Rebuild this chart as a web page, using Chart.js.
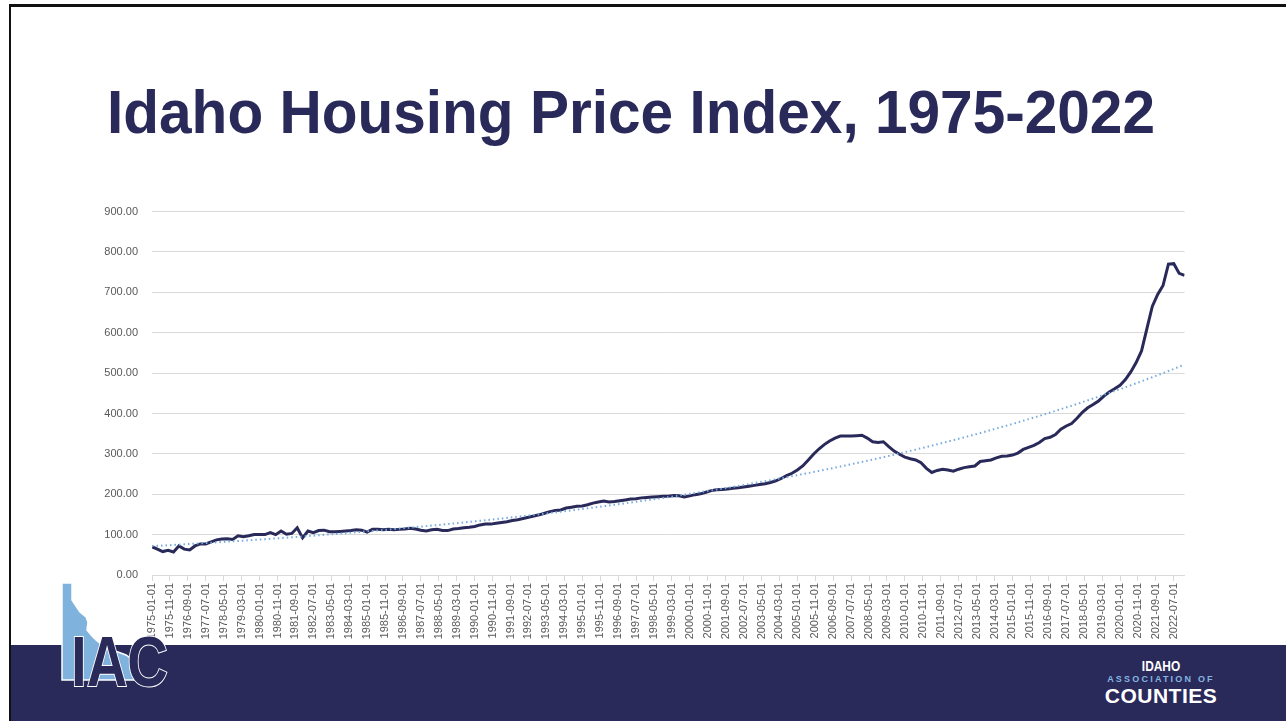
<!DOCTYPE html>
<html>
<head>
<meta charset="utf-8">
<script src="https://cdn.jsdelivr.net/npm/chart.js@4.4.1/dist/chart.umd.min.js"></script>
<style>
  html, body { margin: 0; padding: 0; }
  body { width: 1286px; height: 721px; position: relative; overflow: hidden; background: #fff; font-family: "Liberation Sans", Arial, sans-serif; }
  #frame { position: absolute; left: 9px; top: 4px; width: 1300px; height: 740px; border-left: 2px solid #111; border-top: 3px solid #111; box-sizing: border-box; }
  #title { position: absolute; left: 107px; top: 81px; font-size: 62px; line-height: 62px; font-weight: bold; color: #29295a; white-space: nowrap; transform-origin: 0 0; }
  #chartBox { position: absolute; left: 90px; top: 191px; width: 1099px; height: 479px; }
  #banner { position: absolute; left: 11px; top: 645px; right: 0; bottom: 0; background: #29295a; }
  #iac { position: absolute; left: 50px; top: 576px; }
  #iacText { position: absolute; left: 1090px; top: 658px; width: 142px; text-align: center; color: #fff; }
  #iacText .l1 { font-size: 14px; font-weight: bold; line-height: 16px; transform: scaleX(0.85); }
  #iacText .l2 { font-size: 9px; font-weight: bold; letter-spacing: 2.2px; color: #86b6e2; line-height: 11px; }
  #iacText .l3 { font-size: 21px; font-weight: bold; line-height: 21px; letter-spacing: 0.5px; }
</style>
</head>
<body>
<div id="frame"></div>
<div id="title">Idaho Housing Price Index, 1975-2022</div>
<div id="chartBox"><canvas id="hpiChart" width="1099" height="479"></canvas></div>
<div id="banner"></div>
<svg id="iac" width="130" height="120" viewBox="0 0 130 120">
  <polygon points="12,7 22,7 22,24 26,30 30,36 36,41 38,46 37,54 42,60 46,64 52,69 60,74 68,76 76,79 83,84 85,104 12,104"
           fill="#7fb2dc" stroke="#ffffff" stroke-width="1.5"/>
  <text x="21" y="110" font-family="Liberation Sans, Arial, sans-serif" font-weight="bold" font-size="70"
        textLength="97" lengthAdjust="spacingAndGlyphs" fill="#29295a" stroke="#ffffff" stroke-width="2" paint-order="stroke">IAC</text>
</svg>
<div id="iacText">
  <div class="l1">IDAHO</div>
  <div class="l2">ASSOCIATION OF</div>
  <div class="l3">COUNTIES</div>
</div>
<script>
// quarterly index values, 1975-01-01 .. 2023-01-01 (one value every 3 months)
const firstYear = 1975;
const monthsPerPoint = 3;
const hpiValues = [
  70, 64, 58, 61,      // 1975
  57, 72, 64, 62,      // 1976
  72, 77, 77, 82,      // 1977
  87, 89, 90, 88,      // 1978
  97, 95, 97, 100,     // 1979
  100, 100, 105, 100,  // 1980
  109, 101, 103, 117,  // 1981
  92, 109, 105, 110,   // 1982
  111, 107, 107, 108,  // 1983
  109, 110, 112, 111,  // 1984
  106, 113, 113, 112,  // 1985
  113, 112, 113, 114,  // 1986
  116, 114, 111, 109,  // 1987
  112, 113, 110, 110,  // 1988
  114, 115, 117, 118,  // 1989
  120, 124, 126, 126,  // 1990
  128, 130, 132, 135,  // 1991
  137, 140, 143, 146,  // 1992
  149, 153, 157, 160,  // 1993
  161, 166, 168, 170,  // 1994
  171, 174, 178, 181,  // 1995
  183, 181, 182, 184,  // 1996
  186, 188, 189, 191,  // 1997
  192, 193, 194, 195,  // 1998
  195, 197, 196, 193,  // 1999
  196, 199, 201, 205,  // 2000
  209, 211, 212, 213,  // 2001
  215, 216, 218, 220,  // 2002
  222, 224, 226, 229,  // 2003
  233, 239, 246, 252,  // 2004
  260, 270, 284, 299,  // 2005
  312, 323, 332, 339,  // 2006
  344, 344, 344, 345,  // 2007
  346, 339, 330, 328,  // 2008
  330, 318, 307, 299,  // 2009
  292, 288, 285, 278,  // 2010
  264, 254, 259, 262,  // 2011
  260, 257, 262, 266,  // 2012
  268, 270, 281, 283,  // 2013
  285, 290, 294, 295,  // 2014
  297, 302, 311, 316,  // 2015
  321, 328, 338, 341,  // 2016
  348, 361, 369, 375,  // 2017
  388, 403, 414, 422,  // 2018
  431, 443, 453, 461,  // 2019
  470, 484, 503, 526,  // 2020
  555, 610, 665, 695,  // 2021
  717, 770, 771, 747,  // 2022
  742                  // 2023
];

// axis labels, one every 10 months
const tickLabels = [
  '1975-01-01','1975-11-01','1976-09-01','1977-07-01','1978-05-01','1979-03-01',
  '1980-01-01','1980-11-01','1981-09-01','1982-07-01','1983-05-01','1984-03-01',
  '1985-01-01','1985-11-01','1986-09-01','1987-07-01','1988-05-01','1989-03-01',
  '1990-01-01','1990-11-01','1991-09-01','1992-07-01','1993-05-01','1994-03-01',
  '1995-01-01','1995-11-01','1996-09-01','1997-07-01','1998-05-01','1999-03-01',
  '2000-01-01','2000-11-01','2001-09-01','2002-07-01','2003-05-01','2004-03-01',
  '2005-01-01','2005-11-01','2006-09-01','2007-07-01','2008-05-01','2009-03-01',
  '2010-01-01','2010-11-01','2011-09-01','2012-07-01','2013-05-01','2014-03-01',
  '2015-01-01','2015-11-01','2016-09-01','2017-07-01','2018-05-01','2019-03-01',
  '2020-01-01','2020-11-01','2021-09-01','2022-07-01'
];
const tickStepMonths = 10;
const yTicks = [0, 100, 200, 300, 400, 500, 600, 700, 800, 900];

const navy = '#29295a';
const gridGrey = '#d9d9d9';
const labelGrey = '#595959';

// x = months since Jan 1975
const points = hpiValues.map((v, i) => ({ x: i * monthsPerPoint, y: v }));
const lastMonth = points[points.length - 1].x;

// exponential trendline (least squares on ln y), like the spreadsheet one
let n = points.length, sx = 0, sy = 0, sxx = 0, sxy = 0;
points.forEach(p => {
  const ly = Math.log(p.y);
  sx += p.x; sy += ly; sxx += p.x * p.x; sxy += p.x * ly;
});
const b = (n * sxy - sx * sy) / (n * sxx - sx * sx);
const a = Math.exp((sy - b * sx) / n);
const trendPoints = points.map(p => ({ x: p.x, y: a * Math.exp(b * p.x) }));

const ctx = document.querySelector('#hpiChart').getContext('2d');
const hpiChart = new Chart(ctx, {
  type: 'line',
  data: {
    datasets: [
      {
        label: 'Expon. (HPI)',
        data: trendPoints,
        borderColor: '#76aadd',
        borderWidth: 2,
        borderDash: [1.5, 3],
        pointRadius: 0,
        fill: false,
        order: 0
      },
      {
        label: 'HPI',
        data: points,
        borderColor: navy,
        borderWidth: 3,
        pointRadius: 0,
        fill: false,
        tension: 0,
        order: 1
      }
    ]
  },
  options: {
    responsive: false,
    animation: false,
    layout: { padding: { top: 4, right: 0, left: 0, bottom: 0 } },
    plugins: {
      legend: { display: false },
      tooltip: { enabled: false },
      title: { display: false }
    },
    scales: {
      x: {
        type: 'linear',
        min: 0,
        max: lastMonth,
        border: { display: true, color: gridGrey },
        grid: { drawOnChartArea: false, drawTicks: true, tickLength: 6, color: gridGrey },
        ticks: {
          autoSkip: false,
          minRotation: 90,
          maxRotation: 90,
          padding: 2,
          color: labelGrey,
          font: { family: 'Liberation Sans', size: 11 },
          callback: (value, index) => tickLabels[index]
        },
        afterBuildTicks: scale => {
          scale.ticks = tickLabels.map((_, i) => ({ value: i * tickStepMonths }));
        },
        afterFit: scale => { scale.height = 95; }
      },
      y: {
        min: yTicks[0],
        max: yTicks[yTicks.length - 1],
        border: { display: false },
        grid: { color: gridGrey, drawTicks: false },
        ticks: {
          stepSize: yTicks[1] - yTicks[0],
          padding: 14,
          color: labelGrey,
          font: { family: 'Liberation Sans', size: 11 },
          callback: v => v.toFixed(2)
        },
        afterFit: scale => { scale.width = 62; }
      }
    }
  }
});

// squeeze the title to the slide's width
const title = document.getElementById('title');
const w = title.getBoundingClientRect().width;
title.style.transform = 'scaleX(' + (1048 / w) + ')';
</script>
</body>
</html>
